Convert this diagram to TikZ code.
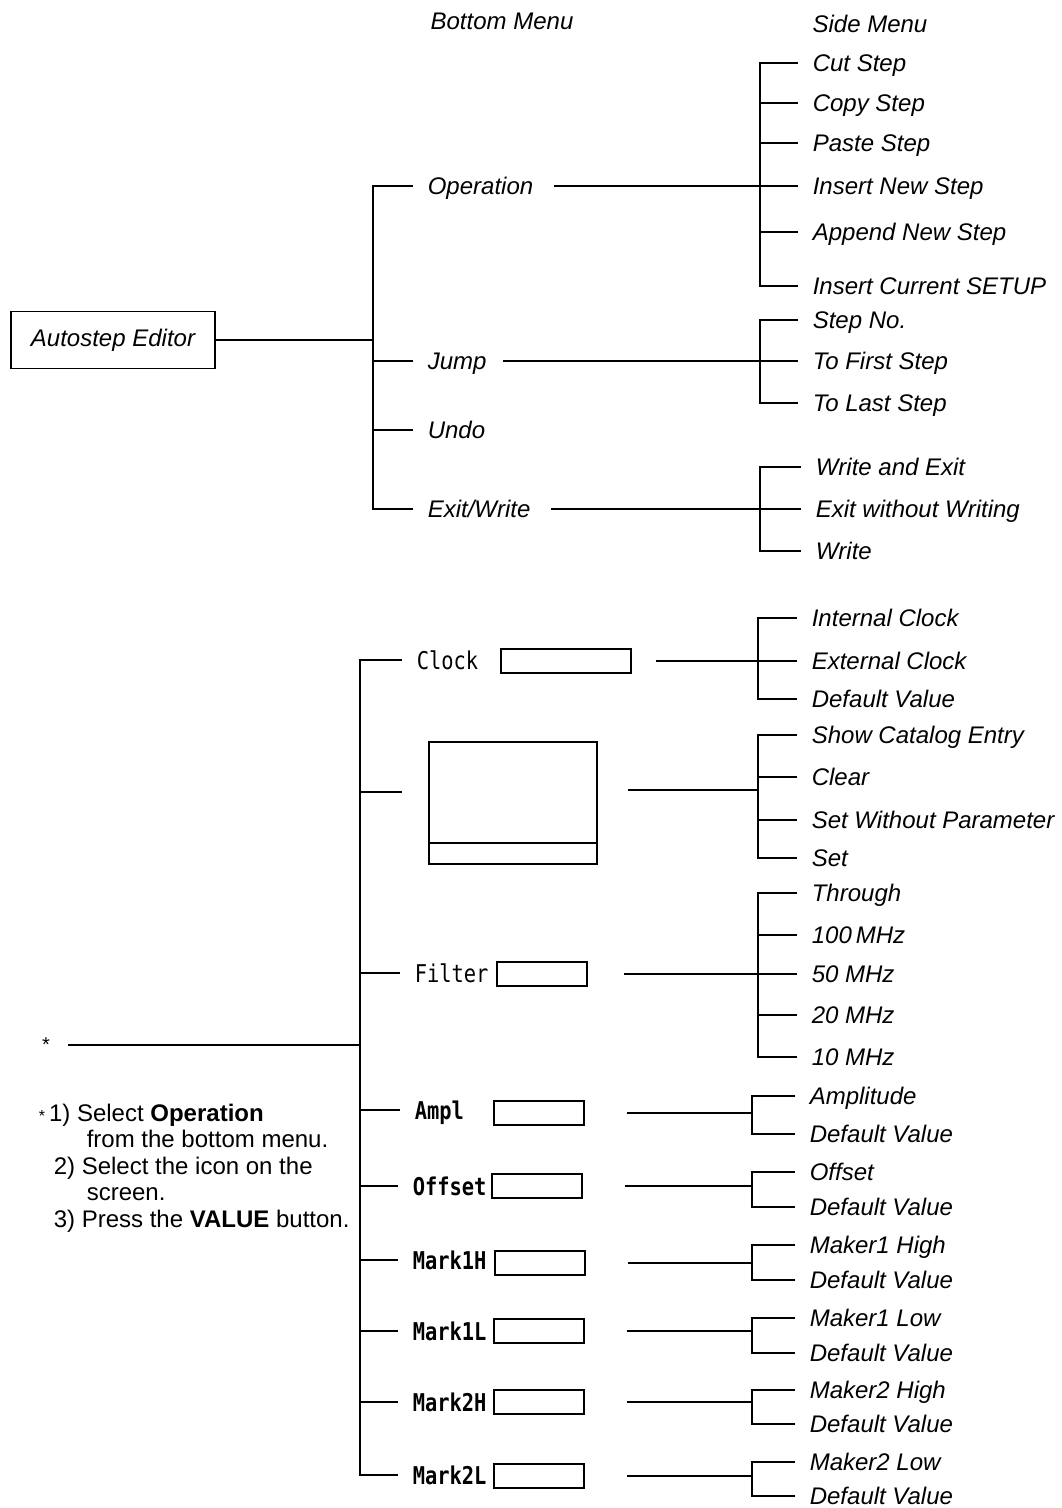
\documentclass[tikz,border=0pt]{standalone}
\usepackage{fontspec}
\setmainfont{Liberation Sans}
\newfontfamily\keyfont{DejaVu Sans Mono}
\usetikzlibrary{positioning}
\newcommand{\tall}[1]{\scalebox{1}[1.2]{#1}}

\begin{document}
\begin{tikzpicture}[
    x=0.5pt, y=-0.5pt, line width=0.8pt,
    menu/.style={anchor=west, inner xsep=7pt, font=\itshape\fontsize{12}{14}\selectfont, text height=11.2pt, text depth=2.6pt},
    head/.style={font=\itshape\fontsize{12}{14}\selectfont},
    key/.style={anchor=west, inner xsep=7pt, font=\keyfont\bfseries\fontsize{10.2}{12}\selectfont, text height=10.2pt, text depth=1.2pt},
    keylight/.style={key, font=\keyfont\fontsize{10.2}{12}\selectfont},
    field/.style={draw, anchor=west, minimum width=45pt, minimum height=12pt, inner sep=0pt},
    note/.style={anchor=north west, align=left, inner sep=0pt, font=\fontsize{12}{13.25}\selectfont}]
  \useasboundingbox (0,0) rectangle (1061,1508);

  \node[head] (hbot)  at (502,21) {Bottom Menu};
  \node[head] (hside) at (870,24) {Side Menu};

  % --- Autostep Editor ---
  \node[draw, minimum width=102pt, minimum height=28.5pt, font=\itshape\fontsize{12}{14}\selectfont] (ed) at (113,340) {Autostep Editor};
  \coordinate (bmA) at (373,340);
  \node[menu] (opn) at (413,186) {Operation};
  \node[menu] (jmp) at (413,361) {Jump};
  \node[menu] (udo) at (413,430) {Undo};
  \node[menu] (exw) at (413,509) {Exit/Write};
  \draw (ed) -- (bmA);
  \draw (opn.west) -| (bmA) |- (exw.west);
  \foreach \n in {jmp,udo} \draw (\n.west) -- (\n.west -| bmA);

  % Operation
  \coordinate (sbOp) at (760,186);
  \node[menu] (cut)   at (798,63)  {Cut Step};
  \node[menu] (copy)  at (798,103) {Copy Step};
  \node[menu] (paste) at (798,143) {Paste Step};
  \node[menu] (ins)   at (798,186) {Insert New Step};
  \node[menu] (app)   at (798,232) {Append New Step};
  \node[menu] (setup) at (798,286) {Insert Current SETUP};
  \draw[shorten <=3pt] (opn.east) -- (sbOp);
  \draw (cut.west) -| (sbOp) |- (setup.west);
  \foreach \n in {copy,paste,ins,app} \draw (\n.west) -- (\n.west -| sbOp);

  % Jump
  \coordinate (sbJp) at (760,361);
  \node[menu] (stno)  at (798,320) {Step No.};
  \node[menu] (first) at (798,361) {To First Step};
  \node[menu] (last)  at (798,403) {To Last Step};
  \draw[shorten <=1pt] (jmp.east) -- (sbJp);
  \draw (stno.west) -| (sbJp) |- (last.west);
  \draw (first.west) -- (sbJp);

  % Exit/Write
  \coordinate (sbEx) at (760,509);
  \node[menu] (wrex)  at (801,467) {Write and Exit};
  \node[menu] (exwo)  at (801,509) {Exit without Writing};
  \node[menu] (wr)    at (801,551) {Write};
  \draw[shorten <=3pt] (exw.east) -- (sbEx);
  \draw (wrex.west) -| (sbEx) |- (wr.west);
  \draw (exwo.west) -- (sbEx);

  % --- VALUE tree ---
  \node (star) at (46,1051) [anchor=base, inner sep=1pt, font=\fontsize{10}{12}\selectfont] {*};
  \coordinate (bsA) at (360,1045);
  \draw (68,1045) coordinate (starL) -- (bsA);

  \node[keylight] (clk) at (402,660)  {\tall{Clock}};
  \node[keylight] (flt) at (400,973)  {\tall{Filter}};
  \node[key] (amp)  at (400,1110) {\tall{Ampl}};
  \node[key] (ofs)  at (398,1186) {\tall{Offset}};
  \node[key] (m1h)  at (398,1260) {\tall{Mark1H}};
  \node[key] (m1l)  at (398,1331) {\tall{Mark1L}};
  \node[key] (m2h)  at (398,1402) {\tall{Mark2H}};
  \node[key] (m2l)  at (398,1475) {\tall{Mark2L}};
  \coordinate (icoL) at (402,792);
  \draw (clk.west) -| (bsA) |- (m2l.west);
  \foreach \n in {flt,amp,ofs,m1h,m1l,m2h} \draw (\n.west) -- (\n.west -| bsA);
  \draw (icoL) -- (icoL -| bsA);

  % value fields
  \node[field, minimum width=65pt] (clkF) at (500,661) {};
  \node[field] (fltF) at (496,974)  {};
  \node[field] (ampF) at (493,1113) {};
  \node[field] (ofsF) at (491,1186) {};
  \node[field] (m1hF) at (494,1263) {};
  \node[field] (m1lF) at (493,1331) {};
  \node[field] (m2hF) at (493,1402) {};
  \node[field] (m2lF) at (493,1476) {};

  % icon
  \node[draw, minimum width=84pt, minimum height=61pt, inner sep=0pt] (icon) at (513,803) {};
  \draw ([yshift=11pt]icon.south west) -- ([yshift=11pt]icon.south east);
  \coordinate (icoR) at (628,790);

  % Clock
  \coordinate (sbCk) at (758,661);
  \node[menu] (iclk) at (797,618) {Internal Clock};
  \node[menu] (eclk) at (797,661) {External Clock};
  \node[menu] (dclk) at (797,699) {Default Value};
  \draw[shorten <=12pt] (clkF.east) -- (sbCk);
  \draw (iclk.west) -| (sbCk) |- (dclk.west);
  \draw (eclk.west) -- (sbCk);

  % icon side menu
  \coordinate (sbIc) at (758,790);
  \node[menu] (show) at (797,735) {Show Catalog Entry};
  \node[menu] (clr)  at (797,777) {Clear};
  \node[menu] (swp)  at (797,820) {Set Without Parameter};
  \node[menu] (set)  at (797,858) {Set};
  \draw (icoR) -- (sbIc);
  \draw (show.west) -| (sbIc) |- (set.west);
  \foreach \n in {clr,swp} \draw (\n.west) -- (\n.west -| sbIc);

  % Filter
  \coordinate (sbFl) at (758,974);
  \node[menu] (thru) at (797,893)  {Through};
  \node[menu] (f100) at (797,935)  {100\,MHz};
  \node[menu] (f50)  at (797,974)  {50 MHz};
  \node[menu] (f20)  at (797,1015) {20 MHz};
  \node[menu] (f10)  at (797,1057) {10 MHz};
  \draw[shorten <=18pt] (fltF.east) -- (sbFl);
  \draw (thru.west) -| (sbFl) |- (f10.west);
  \foreach \n in {f100,f50,f20} \draw (\n.west) -- (\n.west -| sbFl);

  % two-item side menus
  \foreach \f/\a/\b/\ya/\yb/\t in {
      ampF/ampA/ampD/1096/1134/Amplitude,
      ofsF/ofsA/ofsD/1172/1207/Offset,
      m1hF/m1hA/m1hD/1245/1280/Maker1 High,
      m1lF/m1lA/m1lD/1318/1353/Maker1 Low,
      m2hF/m2hA/m2hD/1390/1424/Maker2 High,
      m2lF/m2lA/m2lD/1462/1496/Maker2 Low} {
    \node[menu] (\a) at (795,\ya) {\t};
    \node[menu] (\b) at (795,\yb) {Default Value};
    \coordinate (sb\f) at (752,\ya/2+\yb/2);
    \draw[shorten <=21pt] (\f.east) -- (\f.east -| sb\f);
    \draw (\a.west) -| (sb\f) |- (\b.west);
  }

  % footnote
  \node[note] (notes) at (38,1103) {{\footnotesize*}\,1) Select \textbf{Operation}\\
    \hspace*{24pt}from the bottom menu.\\
    \hspace*{7.5pt}2) Select the icon on the\\
    \hspace*{24pt}screen.\\
    \hspace*{7.5pt}3) Press the \textbf{VALUE} button.};
\end{tikzpicture}
\end{document}
